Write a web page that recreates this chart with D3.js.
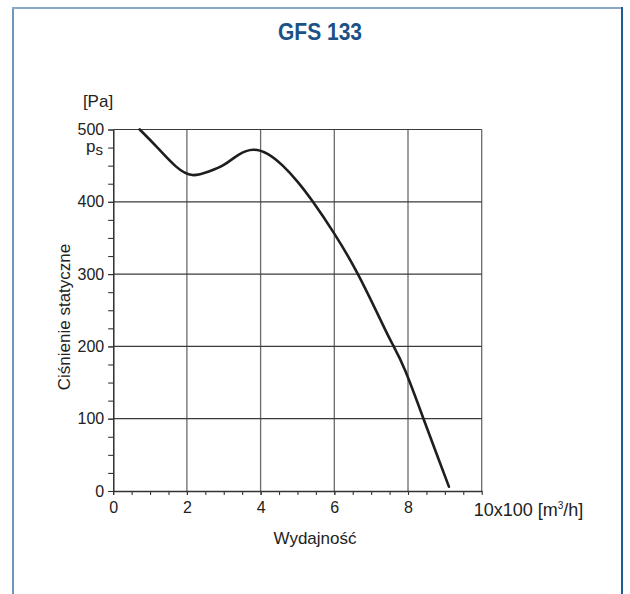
<!DOCTYPE html>
<html>
<head>
<meta charset="utf-8">
<script src="https://cdn.jsdelivr.net/npm/d3@7"></script>
<style>
  body { margin: 0; background: #fff; }
  svg text { font-family: "Liberation Sans", Arial, Helvetica, sans-serif; fill: #222; }
  .title { font-weight: bold; fill: #1b5185; }
</style>
</head>
<body>
<svg id="chart" width="630" height="594"></svg>
<script>
// fan curve GFS 133
const flow = [0.72, 1.2, 1.7, 2.15, 2.6, 3.0, 3.4, 3.8, 4.2, 4.6, 5.0, 5.42, 6.0, 6.64, 7.26, 7.57, 7.92, 8.42, 8.8, 9.11]
const pressure = [500, 475, 449, 437, 442, 451, 465, 472, 466, 450, 428, 400, 356, 300, 236, 204, 167, 100, 48, 6]
const xLabels = [0, 2, 4, 6, 8]
const yLabels = [0, 100, 200, 300, 400, 500]
const xGrid = [2, 4, 6, 8, 10]
const yGrid = [100, 200, 300, 400, 500]

const svg = d3.select("#chart"),
    margin = {top: 129.5, left: 113.2},
    width = 368.5,
    height = 361.5,
    g = svg.append("g").attr("transform", "translate(" + margin.left + "," + margin.top + ")");

// frame round the sheet
svg.append("line").attr("x1", 13).attr("x2", 13).attr("y1", 7).attr("y2", 600)
   .attr("stroke", "#6f97be").attr("stroke-width", 2);
svg.append("line").attr("x1", 12).attr("x2", 623).attr("y1", 8).attr("y2", 8)
   .attr("stroke", "#8aa8c6").attr("stroke-width", 2);
svg.append("line").attr("x1", 622).attr("x2", 622).attr("y1", 7).attr("y2", 600)
   .attr("stroke", "#1d5b94").attr("stroke-width", 2);

svg.append("text")
   .attr("class", "title")
   .attr("x", 278).attr("y", 40)
   .attr("textLength", 84)
   .attr("lengthAdjust", "spacingAndGlyphs")
   .style("font-size", "24.5px")
   .text("GFS 133");

const x = d3.scaleLinear().domain([0, 10]).range([0, width]);
const y = d3.scaleLinear().domain([0, 500]).range([height, 0]);

// grid
g.selectAll(".vgrid").data(xGrid).enter().append("line")
 .attr("x1", d => x(d)).attr("x2", d => x(d)).attr("y1", 0).attr("y2", height)
 .attr("stroke", "#6a6a6a").attr("stroke-width", 1.3);
g.selectAll(".hgrid").data(yGrid).enter().append("line")
 .attr("x1", 0).attr("x2", width).attr("y1", d => y(d)).attr("y2", d => y(d))
 .attr("stroke", "#3a3a3a").attr("stroke-width", 1.2);

// minor ticks
g.append("g")
 .attr("transform", "translate(0," + height + ")")
 .call(d3.axisBottom(x).tickValues(d3.range(0, 10.01, 0.5)).tickSize(4).tickSizeOuter(0).tickFormat(""))
 .call(a => a.selectAll("line").attr("stroke", "#333").attr("stroke-width", 1.1));
g.append("g")
 .call(d3.axisLeft(y).tickValues(d3.range(0, 501, 25)).tickSize(5).tickSizeOuter(0).tickFormat(""))
 .call(a => a.selectAll("line").attr("stroke", "#333").attr("stroke-width", 1.1));

// x axis
g.append("g")
 .attr("transform", "translate(0," + height + ")")
 .call(d3.axisBottom(x).tickValues(xLabels).tickSize(4).tickPadding(7).tickSizeOuter(0))
 .call(a => a.select(".domain").attr("stroke", "#333").attr("stroke-width", 1.4))
 .call(a => a.selectAll("line").attr("stroke", "#333"))
 .call(a => a.selectAll("text").style("font-size", "16px").attr("fill", "#222"));

// y axis
g.append("g")
 .call(d3.axisLeft(y).tickValues(yLabels).tickSize(5).tickPadding(4).tickSizeOuter(0))
 .call(a => a.select(".domain").attr("stroke", "#333").attr("stroke-width", 1.4))
 .call(a => a.selectAll("line").attr("stroke", "#333"))
 .call(a => a.selectAll("text").style("font-size", "16px").attr("fill", "#222"));

// unit at the end of x axis
const unit = g.append("text")
 .attr("x", x(10) - 8).attr("y", height + 25)
 .style("font-size", "18px");
unit.append("tspan").text("10x100 [m");
unit.append("tspan").attr("dy", -7).style("font-size", "10px").text("3");
unit.append("tspan").attr("dy", 7).text("/h]");

// axis titles
svg.append("text")
 .attr("x", 315).attr("y", 544)
 .attr("text-anchor", "middle")
 .style("font-size", "17px")
 .text("Wydajność");
svg.append("text")
 .attr("transform", "translate(70,317) rotate(-90)")
 .attr("text-anchor", "middle")
 .style("font-size", "17px")
 .text("Ciśnienie statyczne");
svg.append("text")
 .attr("x", 98).attr("y", 107)
 .attr("text-anchor", "middle")
 .style("font-size", "17px")
 .text("[Pa]");
const ps = svg.append("text")
 .attr("x", 86).attr("y", 152)
 .style("font-size", "17px");
ps.append("tspan").text("p");
ps.append("tspan").attr("dy", 3).style("font-size", "15px").text("s");

// curve
const line = d3.line()
    .x((d, i) => x(flow[i]))
    .y(d => y(d))
    .curve(d3.curveNatural);

g.append("path")
 .datum(pressure)
 .attr("fill", "none")
 .attr("stroke", "#1e1e1e")
 .attr("stroke-width", 2.6)
 .attr("stroke-linecap", "round")
 .attr("d", line);
</script>
</body>
</html>
